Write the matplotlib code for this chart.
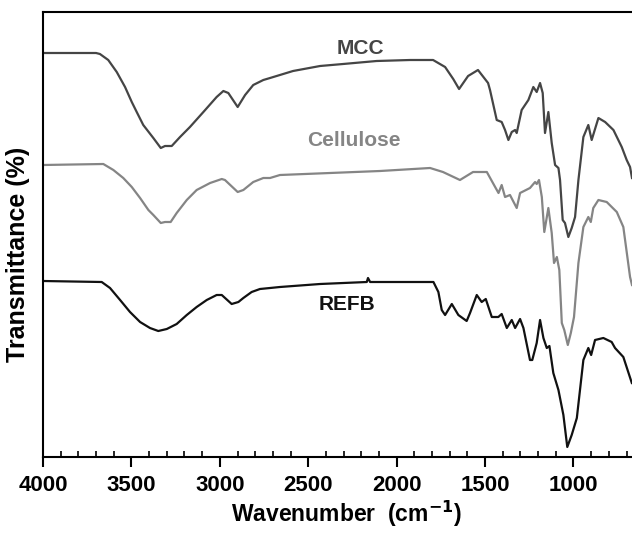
import matplotlib
matplotlib.use("Agg")
import matplotlib.pyplot as plt
from matplotlib.ticker import MultipleLocator

plt.rcParams['font.family'] = ['Liberation Sans', 'DejaVu Sans']
plt.rcParams['font.weight'] = 'bold'

# MCC spectrum (wavenumber cm-1, transmittance a.u.)
mcc_wn = [4000, 3700, 3678, 3631, 3583, 3536, 3498, 3470, 3433, 3376, 3334, 3310, 3272, 3225,
          3169, 3093, 3018, 2980, 2952, 2899, 2857, 2811, 2754, 2716, 2586, 2433, 2303, 2113,
          1924, 1794, 1726, 1680, 1647, 1596, 1540, 1483, 1472, 1434, 1406, 1387, 1368, 1349,
          1330, 1321, 1293, 1255, 1227, 1208, 1189, 1174, 1161, 1142, 1123, 1104, 1085, 1076,
          1061, 1048, 1029, 1010, 991, 972, 944, 916, 897, 859, 821, 774, 727, 699, 680, 669]
mcc_t = [404, 404, 403, 397, 385, 370, 355, 345, 332, 319, 309, 311, 311, 320,
         330, 345, 360, 366, 364, 350, 362, 372, 377, 379, 386, 391, 393, 396,
         397, 397, 390, 378, 368, 381, 387, 374, 367, 337, 335, 327, 317, 325,
         327, 324, 347, 357, 370, 365, 374, 364, 324, 345, 314, 292, 289, 277,
         237, 234, 220, 229, 240, 277, 320, 332, 317, 339, 335, 327, 310, 297, 290, 279]

# Cellulose spectrum
cel_wn = [4000, 3659, 3602, 3546, 3498, 3451, 3404, 3376, 3334, 3310, 3278, 3244, 3187, 3131,
          3055, 2989, 2971, 2899, 2867, 2811, 2754, 2716, 2660, 2377, 2094, 1811, 1738, 1642,
          1568, 1490, 1443, 1424, 1406, 1387, 1359, 1321, 1302, 1246, 1217, 1208, 1195, 1179,
          1165, 1142, 1123, 1110, 1094, 1080, 1066, 1052, 1032, 1015, 997, 972, 944, 916,
          902, 888, 859, 812, 755, 718, 680, 669]
cel_t = [292, 293, 287, 279, 270, 259, 247, 242, 234, 235, 235, 244, 257, 267,
         274, 278, 277, 265, 267, 275, 279, 279, 282, 284, 286, 289, 285, 277,
         285, 285, 270, 264, 272, 260, 262, 249, 264, 269, 275, 273, 277, 260,
         225, 249, 224, 194, 200, 187, 134, 127, 112, 124, 140, 194, 230, 240,
         235, 249, 257, 255, 245, 230, 180, 172]

# REFB spectrum
refb_wn = [4000, 3668, 3621, 3564, 3508, 3451, 3395, 3348, 3300, 3244, 3187, 3131, 3074, 3018,
           2989, 2933, 2895, 2867, 2820, 2773, 2716, 2660, 2433, 2169, 2162, 2150, 1811, 1792,
           1764, 1745, 1726, 1688, 1651, 1604, 1585, 1547, 1519, 1496, 1462, 1425, 1406, 1377,
           1349, 1330, 1302, 1283, 1246, 1233, 1208, 1189, 1170, 1151, 1136, 1114, 1085, 1057,
           1035, 1010, 981, 944, 916, 900, 878, 831, 784, 765, 718, 670]
refb_t = [176, 175, 169, 157, 145, 135, 129, 126, 128, 133, 142, 150, 157, 162,
          162, 153, 155, 159, 165, 168, 169, 170, 173, 175, 179, 175, 175, 175,
          165, 147, 142, 153, 142, 136, 144, 162, 155, 158, 140, 140, 143, 129,
          137, 129, 138, 129, 97, 97, 114, 137, 119, 109, 111, 84, 67, 42,
          10, 22, 39, 97, 109, 102, 117, 119, 115, 109, 100, 74]

series_names = ["MCC", "Cellulose", "REFB"]
series_colors = ["#454545", "#858585", "#111111"]

fig = plt.figure(figsize=(6.32, 5.33), dpi=100)
ax = fig.add_axes([43/632, 1-457/533, 1-43/632, (457-12)/533])

ax.plot(mcc_wn, mcc_t, color=series_colors[0], lw=1.6)
ax.plot(cel_wn, cel_t, color=series_colors[1], lw=1.6)
ax.plot(refb_wn, refb_t, color=series_colors[2], lw=1.6)

ax.text(2207, 408, series_names[0], color=series_colors[0], fontsize=15, fontweight='bold', ha='center', va='center')
ax.text(2241, 317, series_names[1], color=series_colors[1], fontsize=15, fontweight='bold', ha='center', va='center')
ax.text(2278, 152, series_names[2], color=series_colors[2], fontsize=15, fontweight='bold', ha='center', va='center')

ax.set_xlim(4000, 669)
ax.set_ylim(0, 445)
ax.xaxis.set_major_locator(MultipleLocator(500))
ax.xaxis.set_minor_locator(MultipleLocator(100))
ax.tick_params(axis='x', which='major', direction='out', length=7, width=1.5, labelsize=16, pad=6)
ax.tick_params(axis='x', which='minor', direction='in', length=4, width=1.2)
ax.set_yticks([])
ax.spines['right'].set_visible(False)
for s in ['left', 'bottom', 'top']:
    ax.spines[s].set_linewidth(1.5)
for lab in ax.get_xticklabels():
    lab.set_fontweight('bold')

ax.set_xlabel("Wavenumber  (cm$^{\\mathbf{-1}}$)", fontsize=16.5, fontweight='bold')
ax.set_ylabel("Transmittance (%)", fontsize=18, fontweight='bold')
ax.xaxis.set_label_coords(0.516, -0.094)
ax.yaxis.set_label_coords(-0.022, 0.456)

fig.savefig("out.png", dpi=100)
